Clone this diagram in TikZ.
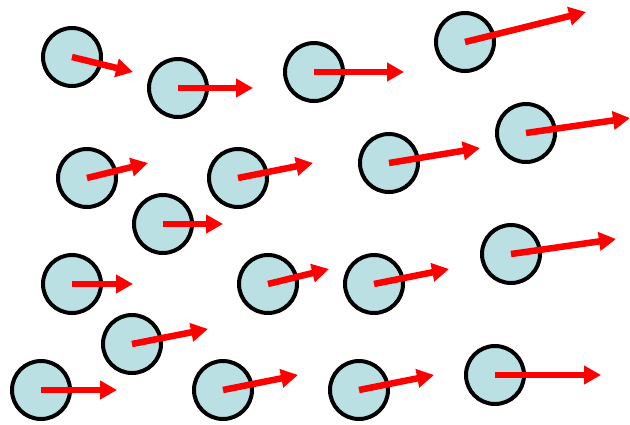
\documentclass[tikz,border=0pt]{standalone}
\usetikzlibrary{arrows.meta}
\definecolor{ball}{RGB}{187,224,227}
\begin{document}
\begin{tikzpicture}[x=1pt,y=-1pt,
  ball/.style={circle,draw=black,fill=ball,line width=4pt,minimum size=58pt,inner sep=0pt},
  vec/.style={draw=red,line width=6.5pt,-{Triangle[length=17pt,width=18pt]}}]
\useasboundingbox (0,0) rectangle (630,424);
\foreach \i/\cx/\cy/\tx/\ty in {
  1/72/57/133/72, 2/178/88/253/88, 3/314/72/404/72, 4/465/42/586/12,
  5/87/178/148/163, 6/238/178/313/163, 7/389/163/480/148, 8/526/133/630/118,
  9/163/224/223/224, 10/72/284/133/284, 11/268/284/329/269, 12/374/284/449/269,
  13/511/254/616/239, 14/132/344/208/329, 15/41/390/117/390, 16/223/390/298/375,
  17/359/390/434/375, 18/495/375/601/375}{
  \node[ball] (c\i) at (\cx,\cy) {};
  \coordinate (t\i) at (\tx,\ty);
}
\foreach \i in {1,...,18}{
  \draw[vec] (c\i.center) -- (t\i);
}
\end{tikzpicture}
\end{document}
